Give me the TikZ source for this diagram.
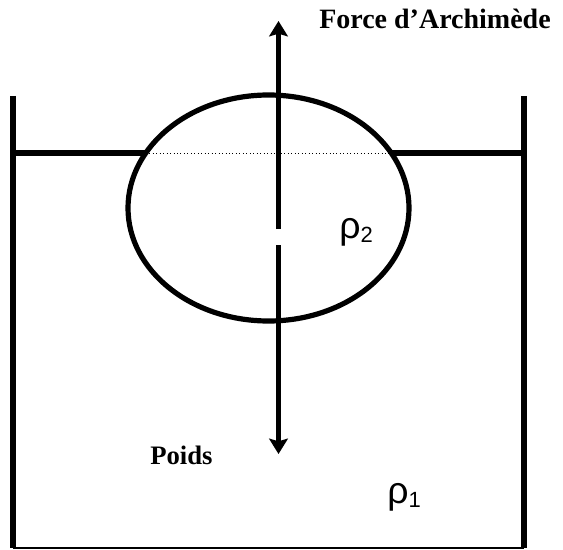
\documentclass[tikz,border=0pt]{standalone}
\usepackage{fontspec}
\setmainfont{Liberation Serif}
\newfontfamily\rhofont{Liberation Sans}
\usepackage{tikz}
\usetikzlibrary{arrows.meta, positioning, shapes.geometric}
\newcommand{\dens}[1]{{\rhofont\fontsize{28pt}{30pt}\selectfont ρ\raisebox{-0.12em}{\fontsize{16.5pt}{18pt}\selectfont #1}}}
\tikzset{
  >=Stealth,
  wall/.style={line width=4.6pt, black},
  waterline/.style={line width=4.2pt, black},
  floorline/.style={line width=1.3pt, black},
  bodyshape/.style={draw, ellipse, line width=3.9pt, inner sep=0pt, minimum width=210.75pt, minimum height=169.5pt},
  forcearrow/.style={-{Stealth[length=11.5pt, width=14pt, inset=2pt]}, line width=3.7pt, black},
  forcelabel/.style={font=\bfseries\fontsize{20pt}{24pt}\selectfont, inner sep=0pt}
}
\begin{document}
\begin{tikzpicture}[x=0.75pt, y=-0.75pt]
    \useasboundingbox (0,0) rectangle (563,549);
    % container
    \coordinate (tl) at (13,96);
    \coordinate (bl) at (13,548);
    \coordinate (br) at (524,548);
    \coordinate (tr) at (524,96);
    \draw[wall] (tl) -- (bl);
    \draw[wall] (tr) -- (br);
    \draw[floorline] (bl) -- (br);

    % floating body
    \node (body) [bodyshape] at (268.5,208) {};
    \coordinate (wl) at (13,153);
    \coordinate (wl1) at (145.8,153);
    \coordinate (wr1) at (391.2,153);
    \coordinate (wr) at (524,153);
    \draw[waterline] (wl) -- (wl1);
    \draw[waterline] (wr1) -- (wr);
    \draw[line width=0.6pt, dotted] (wl1) -- (wr1);

    % forces
    \coordinate (gaptop) at (278.5,229);
    \coordinate (gapbot) at (278.5,245);
    \coordinate (uptip) at (278.5,21);
    \coordinate (downtip) at (278.5,454);
    \draw[forcearrow] (gaptop) -- (uptip);
    \draw[forcearrow] (gapbot) -- (downtip);

    \node (archi) [forcelabel, font=\bfseries\fontsize{21pt}{24pt}\selectfont, anchor=base west] at (319,29) {Force d’Archimède};
    \node (poids) [forcelabel, anchor=base west] at (150,464) {Poids};
    \node (rho2) [inner sep=0pt, anchor=base west] at (339,238) {\dens{2}};
    \node (rho1) [inner sep=0pt, anchor=base west] at (387,503) {\dens{1}};
\end{tikzpicture}
\end{document}
